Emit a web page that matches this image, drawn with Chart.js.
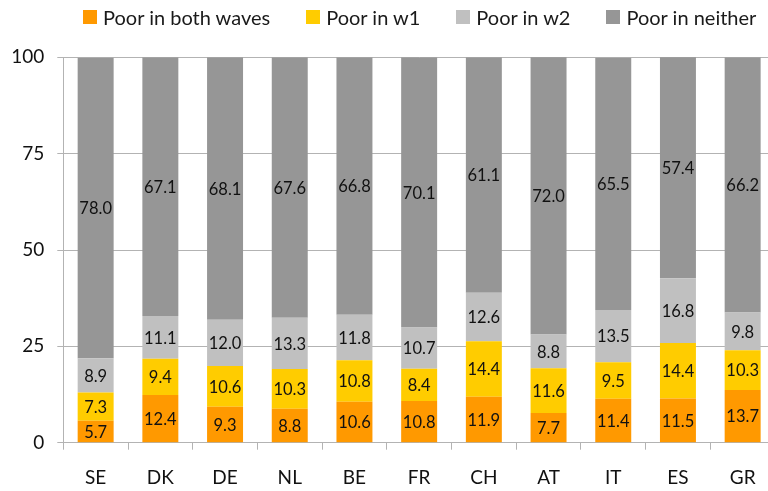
<!DOCTYPE html>
<html>
<head>
<meta charset="utf-8">
<script src="https://cdn.jsdelivr.net/npm/chart.js@4"></script>
<style>
  html, body { margin: 0; padding: 0; background: #fff; overflow: hidden; }
  #wrap { position: relative; width: 780px; height: 491px; }
  #legend { position: absolute; top: 4px; left: 83px; display: flex; align-items: center; white-space: nowrap; font-family: Lato, sans-serif; font-size: 20px; color: #1a1a1a; }
  #legend .item { display: flex; align-items: center; margin-right: 36px; height: 26px; white-space: nowrap; }
  #legend .box { width: 14px; height: 14px; margin-right: 6px; display: inline-block; flex: none; }
</style>
</head>
<body>
<div id="wrap">
  <canvas id="chart" width="780" height="491"></canvas>
  <div id="legend"></div>
</div>
<script>
// Countries on the x axis
const countries = ['SE', 'DK', 'DE', 'NL', 'BE', 'FR', 'CH', 'AT', 'IT', 'ES', 'GR'];

// Shares (%) per poverty status
const poorBoth    = [5.7, 12.4, 9.3, 8.8, 10.6, 10.8, 11.9, 7.7, 11.4, 11.5, 13.7];
const poorW1      = [7.3, 9.4, 10.6, 10.3, 10.8, 8.4, 14.4, 11.6, 9.5, 14.4, 10.3];
const poorW2      = [8.9, 11.1, 12.0, 13.3, 11.8, 10.7, 12.6, 8.8, 13.5, 16.8, 9.8];
const poorNeither = [78.0, 67.1, 68.1, 67.6, 66.8, 70.1, 61.1, 72.0, 65.5, 57.4, 66.2];

const seriesLabels = ['Poor in both waves', 'Poor in w1', 'Poor in w2', 'Poor in neither'];
const seriesColors = ['#ff9900', '#ffcc00', '#c0c0c0', '#969696'];
const yTicks = [0, 25, 50, 75, 100];

const FONT = 'Lato, sans-serif';
const GRID = '#b3b3b3';

// HTML legend, built from the chart's own labels
const htmlLegendPlugin = {
    id: 'htmlLegend',
    afterUpdate(chart, args, options) {
        const container = document.getElementById(options.containerID);
        if (!container) return;
        const items = chart.options.plugins.legend.labels.generateLabels(chart);
        container.innerHTML = items.map(item => `
            <div class="item"><span class="box" style="background:${item.fillStyle};"></span><span>${item.text}</span></div>
        `).join('');
    }
};

// Value printed in the middle of each stacked segment
const barLabelPlugin = {
    id: 'barLabels',
    afterDatasetsDraw(chart) {
        const { ctx } = chart;
        ctx.save();
        ctx.font = `16.5px ${FONT}`;
        ctx.fillStyle = '#111';
        ctx.textAlign = 'center';
        ctx.textBaseline = 'middle';
        chart.data.datasets.forEach((ds, i) => {
            chart.getDatasetMeta(i).data.forEach((bar, j) => {
                const { x, y, base } = bar.getProps(['x', 'y', 'base'], true);
                ctx.fillText(ds.data[j].toFixed(1), x, (y + base) / 2 + 1);
            });
        });
        ctx.restore();
    }
};

const seriesData = [poorBoth, poorW1, poorW2, poorNeither];

new Chart(document.getElementById('chart').getContext('2d'), {
    type: 'bar',
    data: {
        labels: countries,
        datasets: seriesData.map((data, i) => ({
            label: seriesLabels[i],
            data,
            backgroundColor: seriesColors[i],
            borderWidth: 0,
            categoryPercentage: 1,
            barPercentage: 0.556
        }))
    },
    options: {
        responsive: false,
        animation: false,
        layout: { padding: { top: 57.3, right: 5, left: 0, bottom: 0 } },
        plugins: {
            legend: { display: false },
            tooltip: { enabled: false },
            htmlLegend: { containerID: 'legend' }
        },
        scales: {
            x: {
                stacked: true,
                offset: true,
                grid: { offset: true, drawOnChartArea: false, drawTicks: true, tickLength: 7, color: GRID },
                border: { color: GRID },
                ticks: { color: '#111', font: { family: FONT, size: 19 }, padding: 17 },
                afterFit(scale) { scale.height = 48.3; }
            },
            y: {
                stacked: true,
                min: 0,
                max: 100,
                afterBuildTicks(scale) { scale.ticks = yTicks.map(v => ({ value: v })); },
                grid: { color: GRID, tickLength: 6 },
                border: { color: GRID },
                ticks: { color: '#111', font: { family: FONT, size: 19 }, padding: 13 },
                afterFit(scale) { scale.width = 63.3; }
            }
        }
    },
    plugins: [htmlLegendPlugin, barLabelPlugin]
});
</script>
</body>
</html>
